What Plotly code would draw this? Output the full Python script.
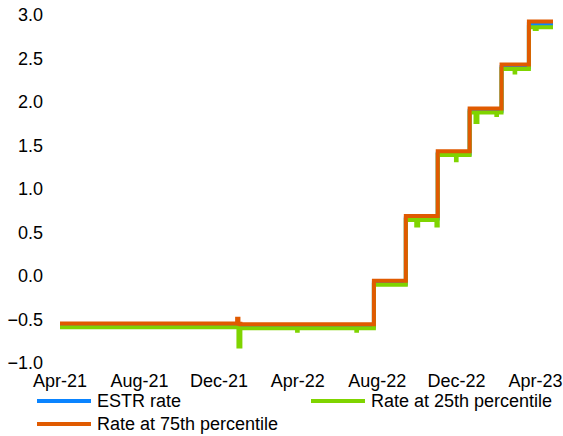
import plotly.graph_objects as go

# ESTR rate (step changes)
estr_dates = ["2021-04-01", "2022-01-03", "2022-07-27", "2022-09-14", "2022-11-02",
              "2022-12-21", "2023-02-08", "2023-03-22", "2023-04-28"]
estr_vals = [-0.565, -0.58, -0.085, 0.66, 1.405, 1.90, 2.40, 2.895, 2.895]

# Rate at 25th percentile
p25_dates = ["2021-04-01", "2021-12-31", "2022-01-03", "2022-03-31", "2022-04-01",
             "2022-06-30", "2022-07-01", "2022-07-27", "2022-09-14", "2022-09-30",
             "2022-10-03", "2022-10-31", "2022-11-02", "2022-11-30", "2022-12-01",
             "2022-12-21", "2022-12-30", "2023-01-02", "2023-01-31", "2023-02-01",
             "2023-02-08", "2023-02-28", "2023-03-01", "2023-03-22", "2023-03-31",
             "2023-04-03", "2023-04-28"]
p25_vals = [-0.59, -0.81, -0.60, -0.63, -0.60,
            -0.63, -0.60, -0.10, 0.645, 0.58,
            0.645, 0.58, 1.39, 1.33, 1.39,
            1.88, 1.77, 1.88, 1.85, 1.88,
            2.38, 2.34, 2.38, 2.86, 2.84,
            2.86, 2.86]

# Rate at 75th percentile
p75_dates = ["2021-04-01", "2021-12-29", "2021-12-31", "2022-01-03", "2022-07-27",
             "2022-09-14", "2022-11-02", "2022-12-21", "2023-02-08", "2023-03-22",
             "2023-04-28"]
p75_vals = [-0.545, -0.49, -0.55, -0.555, -0.055,
            0.69, 1.435, 1.925, 2.43, 2.925,
            2.925]

series_names = ["ESTR rate", "Rate at 25th percentile", "Rate at 75th percentile"]
tick_labels_fmt = "%b-%y"

FONT = "Liberation Sans, Arial, sans-serif"
FS = 18
BLUE = "#0a84ff"
GREEN = "#7fd400"
ORANGE = "#e05a00"
colors = [BLUE, GREEN, ORANGE]

W, H = 563, 436
ML, MR, MT, MB = 60, 10, 15, 73
PW, PH = W - ML - MR, H - MT - MB

fig = go.Figure()
for name, xs, ys, col in zip(series_names,
                             [estr_dates, p25_dates, p75_dates],
                             [estr_vals, p25_vals, p75_vals], colors):
    fig.add_trace(go.Scatter(x=xs, y=ys, name=name, mode="lines", showlegend=False,
                             line=dict(color=col, width=4, shape="hv")))

# legend drawn as line samples + labels below the plot (2 columns)
def px_x(p):
    return (p - ML) / PW

def px_y(p):
    return (H - MB - p) / PH

legend_slots = [(37, 401), (311, 401), (37, 424)]
shapes, annotations = [], []
for name, col, (lx, ly) in zip(series_names, colors, legend_slots):
    shapes.append(dict(type="line", xref="paper", yref="paper",
                       x0=px_x(lx), x1=px_x(lx + 54), y0=px_y(ly), y1=px_y(ly),
                       line=dict(color=col, width=4)))
    annotations.append(dict(text=name, xref="paper", yref="paper",
                            x=px_x(lx + 58), y=px_y(ly), xanchor="left", yanchor="middle",
                            showarrow=False, font=dict(family=FONT, size=FS, color="#000000")))

fig.update_layout(
    width=W, height=H,
    margin=dict(l=ML, r=MR, t=MT, b=MB, autoexpand=False),
    paper_bgcolor="white", plot_bgcolor="white",
    font=dict(family=FONT, size=FS, color="#000000"),
    showlegend=False,
    shapes=shapes, annotations=annotations,
    xaxis=dict(type="date", range=["2021-04-01", "2023-04-28"],
               tick0="2021-04-01", dtick="M4", tickformat=tick_labels_fmt,
               showgrid=False, zeroline=False, showline=False, ticks="",
               ticklabelstandoff=5),
    yaxis=dict(range=[-1.0, 3.0], dtick=0.5, tick0=0, tickformat=".1f",
               showgrid=False, zeroline=False, showline=False, ticks="",
               ticklabelstandoff=16),
)

fig.write_html("out.html", config={"displayModeBar": False},
               post_script=["document.body.style.margin='0';"
                            "document.body.style.overflow='hidden';"])
